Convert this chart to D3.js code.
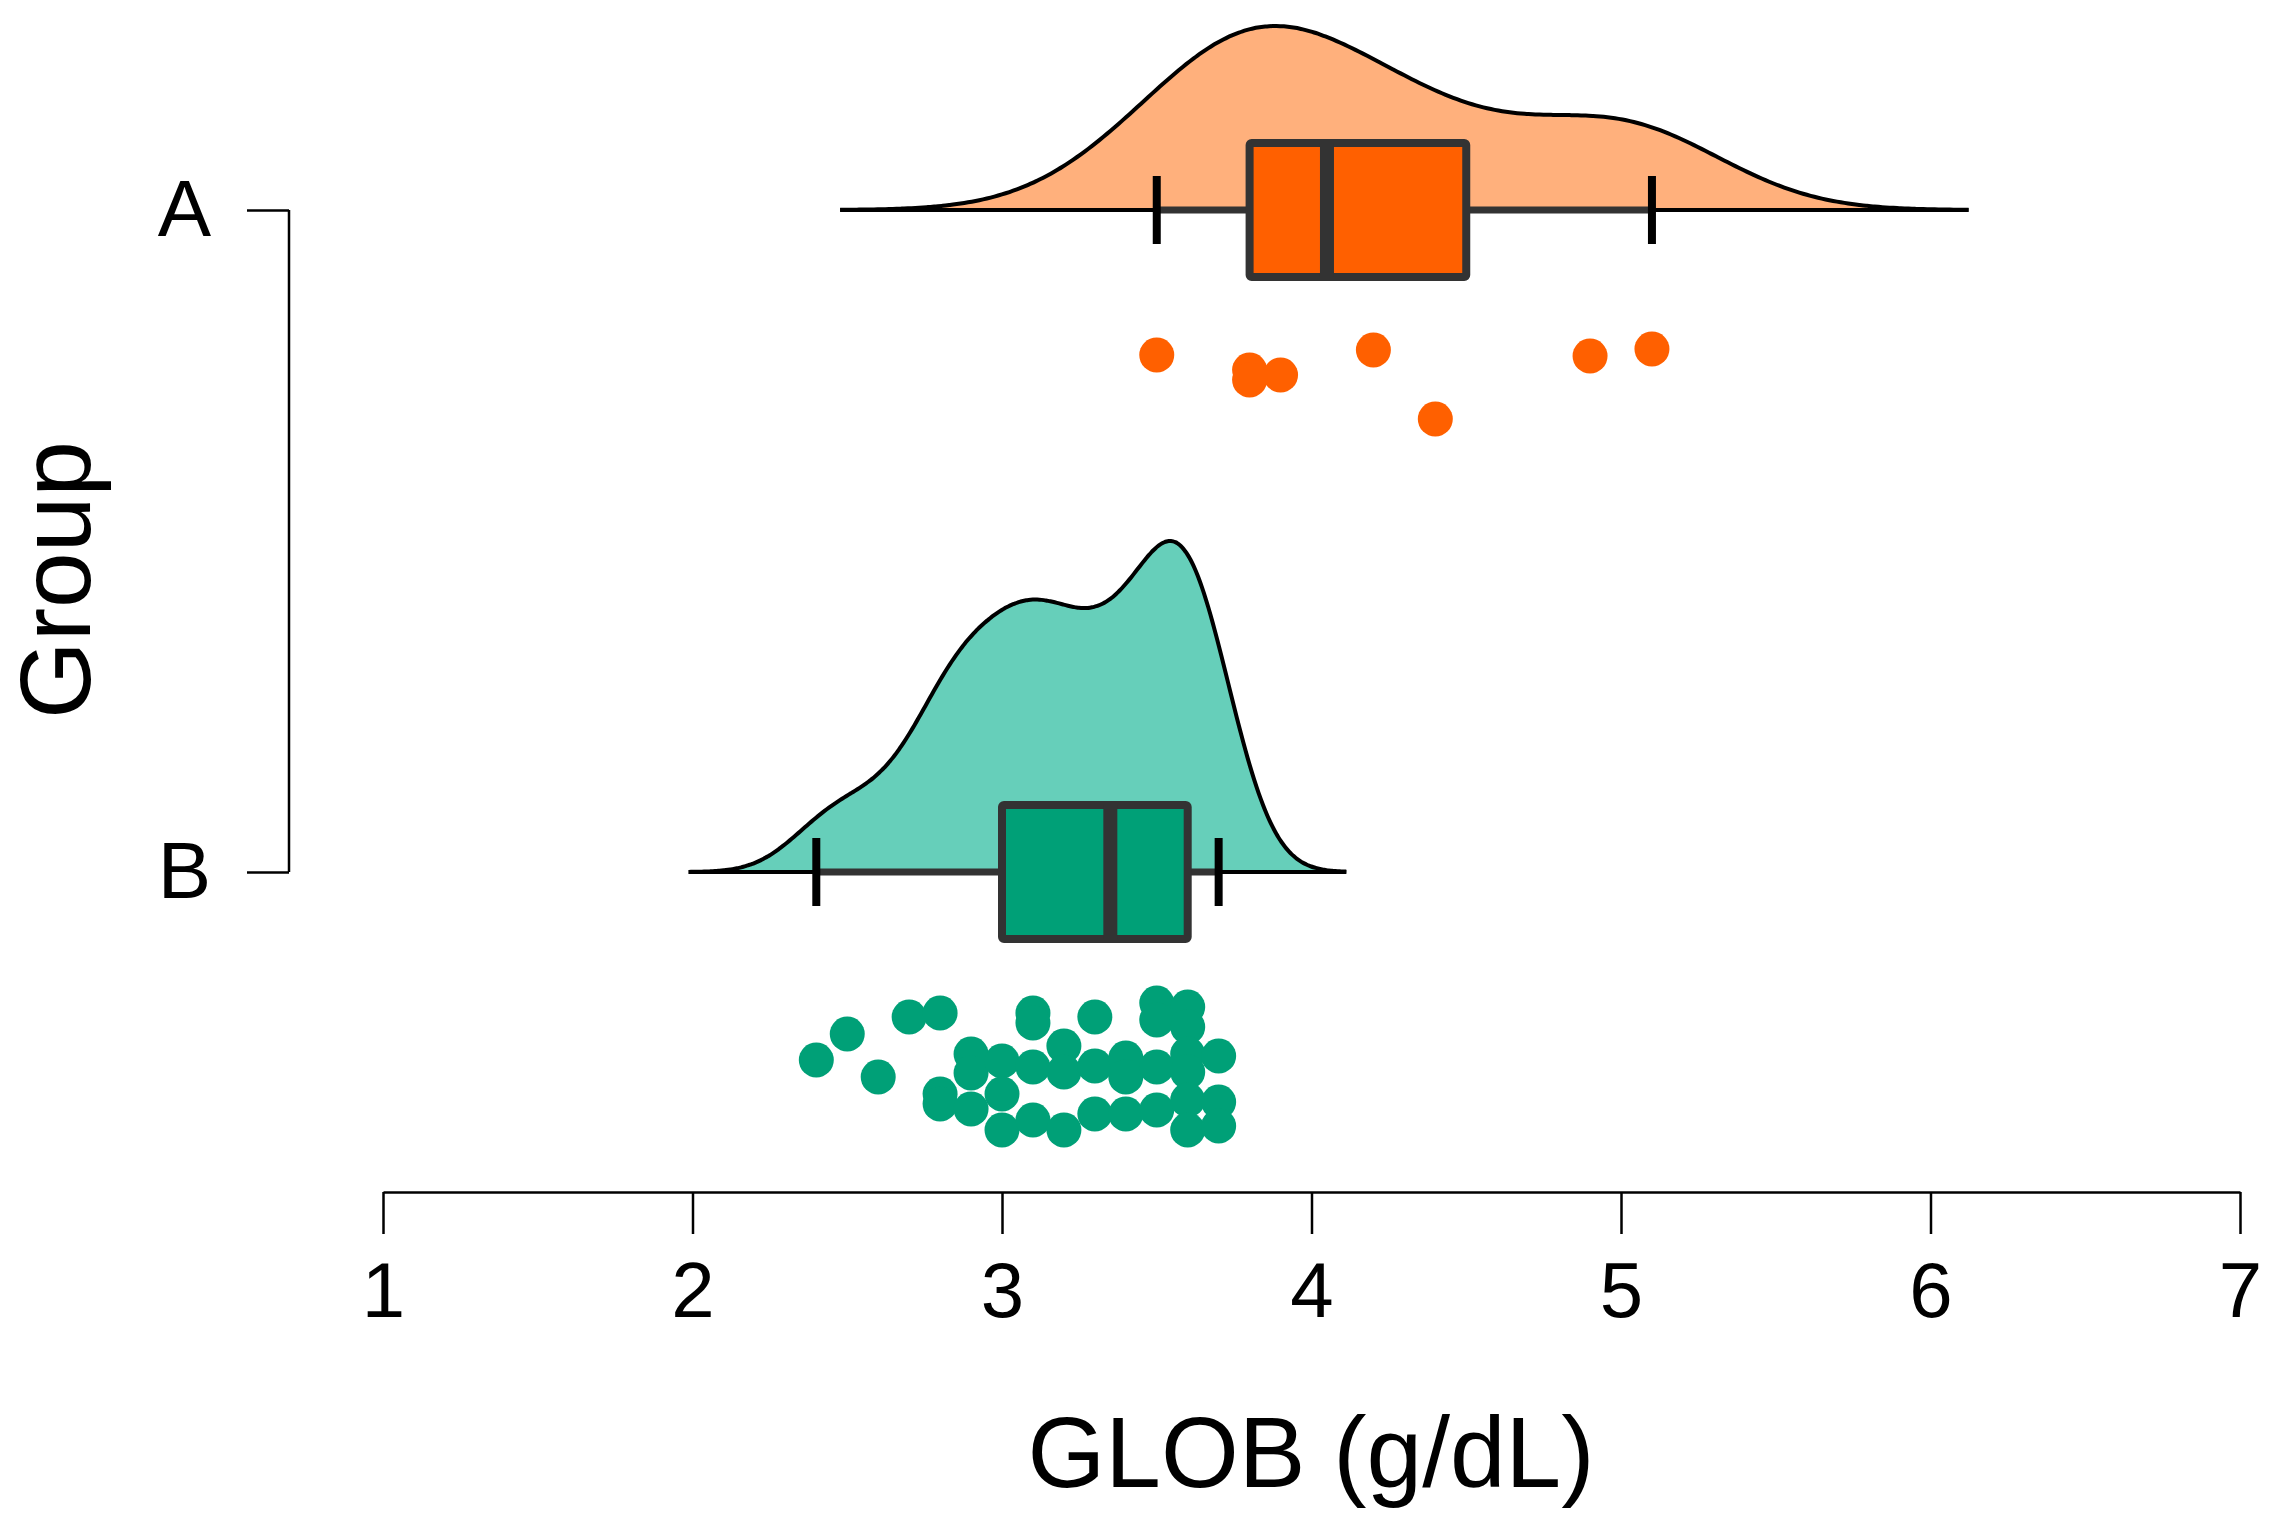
<!DOCTYPE html><html><head><meta charset="utf-8">
<script src="https://cdn.jsdelivr.net/npm/d3@7"></script>
<style>body{margin:0;background:#fff}text{font-family:"Liberation Sans",Arial,sans-serif}</style></head><body>
<svg id="c" width="2278" height="1528"></svg>
<script>
const groups=["A","B"];
const valuesA=[3.5,3.8,3.8,3.9,4.2,4.4,4.9,5.1];
const jitterA=[145,160,170,165,140,209,146,139];
const valuesB=[2.4,2.5,2.6,2.7,2.8,2.8,2.8,2.9,2.9,2.9,3.0,3.0,3.0,3.1,3.1,3.1,3.1,3.2,3.2,3.2,3.3,3.3,3.3,3.4,3.4,3.4,3.5,3.5,3.5,3.5,3.6,3.6,3.6,3.6,3.6,3.6,3.7,3.7,3.7];
const jitterB=[188,162,205,145,141,222,232,182,201,237,189,222,258,141,151,195,248,174,200,258,145,194,242,186,205,242,131,148,195,238,135,155,182,200,228,258,184,230,254];
const boxA={lo:3.5,q1:3.8,med:4.05,q3:4.5,hi:5.1};
const boxB={lo:2.4,q1:3.0,med:3.35,q3:3.6,hi:3.7};
const bwA=0.31,bwB=0.125;
const xTicks=[1,2,3,4,5,6,7];

const svg=d3.select("#c");
const x=d3.scaleLinear().domain([1,7]).range([383,2240]);
const y=d3.scalePoint().domain(groups).range([210,872]);
const cfg=[
 {g:"A",v:valuesA,j:jitterA,box:boxA,bw:bwA,peak:184,dens:"#FFB07C",fill:"#FF6000"},
 {g:"B",v:valuesB,j:jitterB,box:boxB,bw:bwB,peak:331,dens:"#66CFBA",fill:"#00A077"}];
function kde(v,bw){const lo=d3.min(v)-3.3*bw,hi=d3.max(v)+3.3*bw,n=300,pts=[];
 for(let i=0;i<=n;i++){const t=lo+(hi-lo)*i/n;let s=0;for(const a of v){const z=(t-a)/bw;s+=Math.exp(-0.5*z*z);}pts.push([t,s/(v.length*bw*Math.sqrt(2*Math.PI))]);}return pts;}
cfg.forEach(c=>{
 c.k=kde(c.v,c.bw);
 const by=y(c.g);
 const hs=d3.scaleLinear().domain([0,d3.max(c.k,d=>d[1])]).range([0,c.peak]);
 const area=d3.area().x(d=>x(d[0])).y0(by).y1(d=>by-hs(d[1])).curve(d3.curveBasis);
 svg.append("path").attr("d",area(c.k)).attr("fill",c.dens).attr("stroke","none");
 const line=d3.line().x(d=>x(d[0])).y(d=>by-hs(d[1])).curve(d3.curveBasis);
 svg.append("path").attr("d",line(c.k)).attr("fill","none").attr("stroke","#000").attr("stroke-width",4);
 svg.append("line").attr("x1",x(c.k[0][0])).attr("x2",x(c.k[c.k.length-1][0])).attr("y1",by).attr("y2",by).attr("stroke","#000").attr("stroke-width",4);
 const b=c.box;
 svg.append("line").attr("x1",x(b.lo)).attr("x2",x(b.hi)).attr("y1",by).attr("y2",by).attr("stroke","#333").attr("stroke-width",7);
 [b.lo,b.hi].forEach(t=>svg.append("line").attr("x1",x(t)).attr("x2",x(t)).attr("y1",by-34).attr("y2",by+34).attr("stroke","#000").attr("stroke-width",8));
 svg.append("rect").attr("x",x(b.q1)).attr("width",x(b.q3)-x(b.q1)).attr("y",by-67).attr("height",134).attr("fill",c.fill).attr("stroke","#333").attr("stroke-width",8).attr("rx",2);
 svg.append("line").attr("x1",x(b.med)).attr("x2",x(b.med)).attr("y1",by-67).attr("y2",by+67).attr("stroke","#333").attr("stroke-width",14);
 svg.append("g").selectAll("circle").data(c.v).join("circle").attr("cx",d=>x(d)).attr("cy",(d,i)=>by+c.j[i]).attr("r",17.5).attr("fill",c.fill);
});
const xa=svg.append("g").attr("transform","translate(0,1192)").call(d3.axisBottom(x).tickValues(xTicks).tickFormat(d3.format("d")).tickSize(42).tickSizeOuter(0).tickPadding(28));
xa.select(".domain").attr("stroke","#000").attr("stroke-width",2.5);
xa.selectAll(".tick line").attr("stroke","#000").attr("stroke-width",2.5);
xa.selectAll(".tick text").attr("font-size",78).attr("fill","#000");
const ya=svg.append("g").attr("transform","translate(289,0)").call(d3.axisLeft(y).tickSize(42).tickSizeOuter(0).tickPadding(36));
ya.select(".domain").attr("stroke","#000").attr("stroke-width",2.5).attr("d","M0,210V872");
ya.selectAll(".tick line").attr("stroke","#000").attr("stroke-width",2.5);
ya.selectAll(".tick text").attr("font-size",80).attr("fill","#000");
svg.append("text").attr("x",1311).attr("y",1487).attr("text-anchor","middle").attr("font-size",100).text("GLOB (g/dL)");
svg.append("text").attr("transform","translate(90,580) rotate(-90)").attr("text-anchor","middle").attr("font-size",100).text("Group");
</script></body></html>
